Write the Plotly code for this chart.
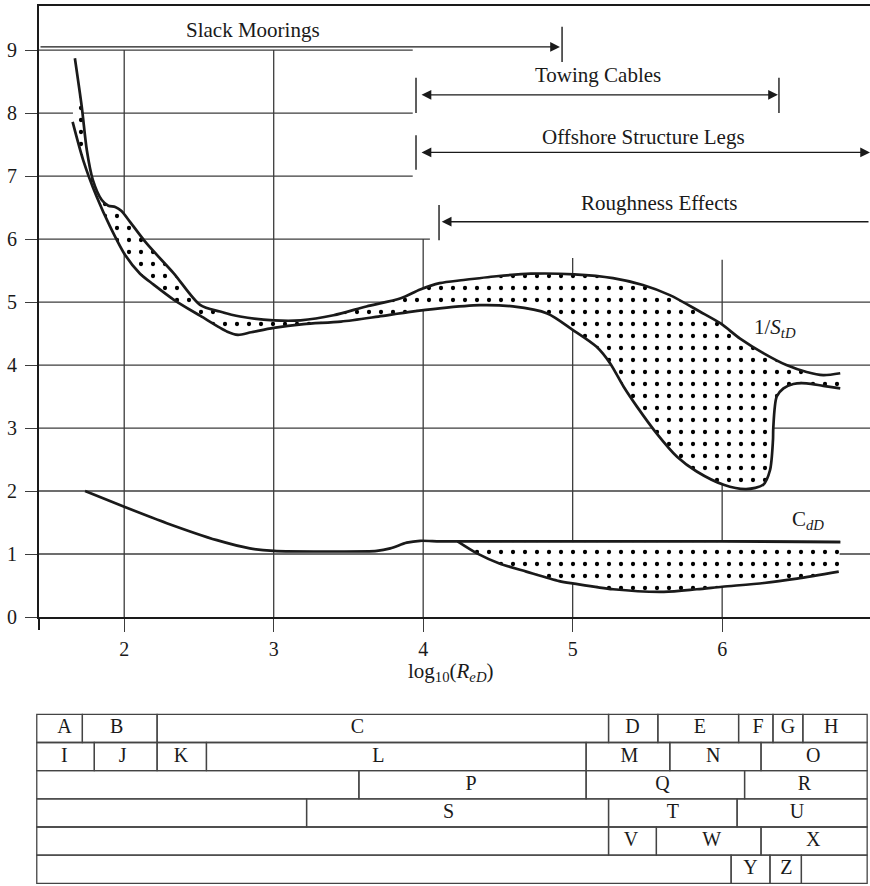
import plotly.graph_objects as go

# ---------------- data ----------------
# 1/S_tD band, upper boundary
st_upper_x = [1.67, 1.716, 1.75, 1.79, 1.85, 1.894, 1.94, 1.98, 2.04, 2.15, 2.33, 2.51, 2.64, 2.775,
              3.0, 3.18, 3.40, 3.62, 3.85, 3.98, 4.11, 4.27, 4.49, 4.72, 5.01, 5.27, 5.47, 5.65,
              5.85, 5.99, 6.12, 6.275, 6.43, 6.565, 6.676, 6.79]
st_upper_y = [8.87, 8.10, 7.41, 6.94, 6.62, 6.53, 6.51, 6.45, 6.27, 5.93, 5.46, 4.95, 4.85, 4.77,
              4.71, 4.71, 4.79, 4.93, 5.06, 5.20, 5.30, 5.35, 5.41, 5.45, 5.44, 5.38, 5.27, 5.11,
              4.85, 4.66, 4.42, 4.19, 4.00, 3.89, 3.84, 3.87]
# 1/S_tD band, lower boundary
st_lower_x = [1.655, 1.726, 1.816, 1.905, 2.005, 2.106, 2.195, 2.33, 2.51, 2.69, 2.76, 2.85, 3.0,
              3.2, 3.45, 3.7, 3.9, 4.11, 4.38, 4.60, 4.83, 5.0, 5.16, 5.25, 5.34, 5.43, 5.56,
              5.70, 5.83, 6.01, 6.16, 6.275, 6.32, 6.34, 6.342, 6.365, 6.41, 6.476, 6.565, 6.676, 6.79]
st_lower_y = [7.86, 7.25, 6.67, 6.20, 5.75, 5.45, 5.28, 5.04, 4.78, 4.53, 4.48, 4.52, 4.59,
              4.65, 4.69, 4.77, 4.84, 4.90, 4.95, 4.93, 4.82, 4.56, 4.29, 4.03, 3.66, 3.34, 2.92,
              2.54, 2.31, 2.10, 2.03, 2.10, 2.33, 2.81, 3.00, 3.50, 3.63, 3.70, 3.71, 3.67, 3.63]
# C_dD curve (upper boundary of its band on the right)
cd_x = [1.738, 2.0, 2.285, 2.62, 2.84, 3.0, 3.4, 3.69, 3.78, 3.89, 3.98, 4.11, 4.23, 5.0, 6.0, 6.79]
cd_y = [2.0, 1.75, 1.49, 1.22, 1.09, 1.05, 1.04, 1.05, 1.09, 1.18, 1.21, 1.20, 1.20, 1.20, 1.20, 1.19]
# C_dD band, lower boundary
cd_lower_x = [4.23, 4.36, 4.51, 4.69, 4.91, 5.01, 5.27, 5.61, 5.83, 6.0, 6.28, 6.50, 6.78]
cd_lower_y = [1.20, 1.01, 0.85, 0.72, 0.57, 0.53, 0.44, 0.40, 0.44, 0.48, 0.54, 0.61, 0.72]

x_ticks = [2, 3, 4, 5, 6]
y_ticks = [0, 1, 2, 3, 4, 5, 6, 7, 8, 9]

# application ranges (log10 Re)
range_names = ["Slack Moorings", "Towing Cables", "Offshore Structure Legs", "Roughness Effects"]
range_start = [1.43, 3.979, 3.979, 4.124]
range_end = [4.915, 6.373, 6.989, 6.989]

# table of ranges below the chart
cell_label = ["A", "B", "C", "D", "E", "F", "G", "H",
              "I", "J", "K", "L", "M", "N", "O",
              "", "P", "Q", "R",
              "", "S", "T", "U",
              "", "V", "W", "X",
              "", "Y", "Z", ""]
cell_row = [0] * 8 + [1] * 7 + [2] * 4 + [3] * 4 + [4] * 4 + [5] * 4
cell_start = [1.415, 1.72, 2.22, 5.24, 5.57, 6.11, 6.34, 6.54,
              1.415, 1.80, 2.22, 2.55, 5.09, 5.65, 6.26,
              1.415, 3.57, 5.09, 6.15,
              1.415, 3.22, 5.24, 6.10,
              1.415, 5.24, 5.56, 6.26,
              1.415, 6.06, 6.32, 6.53]
cell_end = [1.72, 2.22, 5.24, 5.57, 6.11, 6.34, 6.54, 6.97,
            1.80, 2.22, 2.55, 5.09, 5.65, 6.26, 6.97,
            3.57, 5.09, 6.15, 6.97,
            3.22, 5.24, 6.10, 6.97,
            5.24, 5.56, 6.26, 6.97,
            6.06, 6.32, 6.53, 6.97]
label_x = [1.60, 1.95, 3.56, 5.40, 5.85, 6.24, 6.44, 6.73,
           1.60, 1.99, 2.38, 3.70, 5.38, 5.94, 6.61,
           None, 4.32, 5.60, 6.55,
           None, 4.17, 5.67, 6.50,
           None, 5.39, 5.93, 6.61,
           None, 6.19, 6.43, None]

# ---------------- styling ----------------
W, H = 870, 886          # reference picture size (positions below are fractions of it)
H_LAYOUT = 897           # rendered height that maps onto the 886-px picture
FONT = "Liberation Serif"
INK = "#1a1a1a"
GRID = "#3c3c3c"
pattern = dict(shape=".", bgcolor="white", fgcolor="#000000", fgopacity=1, size=12, solidity=0.1)
CURVE = dict(color=INK, width=2.7, shape="spline", smoothing=0.8)

fig = go.Figure()

# 1/S_tD band
fig.add_trace(go.Scatter(x=st_upper_x, y=st_upper_y, mode="lines", line=CURVE, hoverinfo="skip"))
fig.add_trace(go.Scatter(x=st_lower_x, y=st_lower_y, mode="lines", fill="tonexty",
                         fillcolor="white", fillpattern=pattern, line=CURVE, hoverinfo="skip"))
# C_dD curve and band
fig.add_trace(go.Scatter(x=cd_x, y=cd_y, mode="lines", line=CURVE, hoverinfo="skip"))
seg_x = [x for x in cd_x if x >= cd_lower_x[0]]
seg_y = [y for x, y in zip(cd_x, cd_y) if x >= cd_lower_x[0]]
fig.add_trace(go.Scatter(x=seg_x, y=seg_y, mode="lines", line=CURVE, hoverinfo="skip"))
fig.add_trace(go.Scatter(x=cd_lower_x, y=cd_lower_y, mode="lines", fill="tonexty",
                         fillcolor="white", fillpattern=pattern, line=CURVE, hoverinfo="skip"))

# table labels
tx = [lx for lx, lab in zip(label_x, cell_label) if lab]
ty = [r + 0.5 for r, lab in zip(cell_row, cell_label) if lab]
tt = [lab for lab in cell_label if lab]
fig.add_trace(go.Scatter(x=tx, y=ty, text=tt, mode="text", xaxis="x2", yaxis="y2",
                         textfont=dict(family=FONT, size=20, color=INK), hoverinfo="skip"))

shapes = []
# grid lines (partial, as in the original)
x_lo, x_hi = 1.43, 6.989
for yv in [1, 2, 3, 4, 5]:
    shapes.append(dict(type="line", xref="x", yref="y", x0=x_lo, x1=x_hi, y0=yv, y1=yv,
                       line=dict(color=GRID, width=1.3), layer="below"))
shapes.append(dict(type="line", xref="x", yref="y", x0=x_lo, x1=4.045, y0=6, y1=6,
                   line=dict(color=GRID, width=1.3), layer="below"))
for yv in [7, 8, 9]:
    shapes.append(dict(type="line", xref="x", yref="y", x0=x_lo, x1=3.93, y0=yv, y1=yv,
                       line=dict(color=GRID, width=1.3), layer="below"))
for xv, ytop in [(2, 9), (3, 9), (4, 6), (5, 5.7), (6, 5.67)]:
    shapes.append(dict(type="line", xref="x", yref="y", x0=xv, x1=xv, y0=0, y1=ytop,
                       line=dict(color=GRID, width=1.3), layer="below"))
# left frame extension below the axis
shapes.append(dict(type="line", xref="paper", yref="paper", x0=39 / W, x1=39 / W,
                   y0=1 - 630 / H, y1=1 - 617 / H, line=dict(color=INK, width=2)))

# range bars (end stops)
stops = [(4.929, 8.81, 9.37), (3.952, 8.0, 8.56), (6.38, 8.0, 8.56),
         (3.952, 7.10, 7.65), (4.106, 5.98, 6.54)]
for xs, y0, y1 in stops:
    shapes.append(dict(type="line", xref="x", yref="y", x0=xs, x1=xs, y0=y0, y1=y1,
                       line=dict(color=INK, width=1.4)))

# table cells
for lab, r, a, b in zip(cell_label, cell_row, cell_start, cell_end):
    shapes.append(dict(type="rect", xref="x2", yref="y2", x0=a, x1=b, y0=r, y1=r + 1,
                       line=dict(color="#444444", width=1.3)))

annotations = []
range_y = [9.05, 8.29, 7.376, 6.275]
text_pos = [(2.86, 9.32), (5.169, 8.60), (5.474, 7.62), (5.584, 6.57)]
arrow_common = dict(xref="x", yref="y", axref="x", ayref="y", text="", showarrow=True,
                    arrowhead=2, arrowsize=1.5, arrowwidth=1.3, arrowcolor=INK)
annotations.append(dict(x=range_end[0], y=range_y[0], ax=range_start[0], ay=range_y[0],
                        arrowside="end", **arrow_common))
annotations.append(dict(x=range_end[1], y=range_y[1], ax=range_start[1], ay=range_y[1],
                        arrowside="end+start", **arrow_common))
annotations.append(dict(x=range_end[2], y=range_y[2], ax=range_start[2], ay=range_y[2],
                        arrowside="end+start", **arrow_common))
annotations.append(dict(x=range_start[3], y=range_y[3], ax=range_end[3], ay=range_y[3],
                        arrowside="end", **arrow_common))
for name, (tx_, ty_) in zip(range_names, text_pos):
    annotations.append(dict(x=tx_, y=ty_, xref="x", yref="y", text=name, showarrow=False,
                            xanchor="center", yanchor="middle",
                            font=dict(family=FONT, size=21, color=INK)))
# curve labels
annotations.append(dict(x=6.355, y=4.59, xref="x", yref="y", text="1/<i>S<sub>tD</sub></i>",
                        showarrow=False, xanchor="center", yanchor="middle",
                        font=dict(family=FONT, size=21, color=INK)))
annotations.append(dict(x=6.575, y=1.54, xref="x", yref="y", text="C<i><sub>dD</sub></i>",
                        showarrow=False, xanchor="center", yanchor="middle",
                        font=dict(family=FONT, size=21, color=INK)))
# axis title
annotations.append(dict(x=4.186, y=1 - 672 / H, xref="x", yref="paper",
                        text="log<sub>10</sub>(<i>R<sub>eD</sub></i>)", showarrow=False,
                        xanchor="center", yanchor="middle",
                        font=dict(family=FONT, size=21, color=INK)))

fig.update_layout(
    width=W, height=H_LAYOUT,
    margin=dict(l=0, r=0, t=0, b=0),
    paper_bgcolor="white", plot_bgcolor="white",
    showlegend=False,
    xaxis=dict(domain=[39 / W, 1], range=[x_lo, x_hi], tickvals=x_ticks,
               ticks="outside", ticklen=13, tickwidth=1.3, tickcolor=GRID,
               showgrid=False, zeroline=False, showline=True, linecolor=INK, linewidth=2,
               mirror=True, tickfont=dict(family=FONT, size=20, color=INK)),
    yaxis=dict(domain=[1 - 617 / H, 1 - 6 / H], range=[0, 9.7], tickvals=y_ticks,
               ticks="outside", ticklen=12, tickwidth=1.3, tickcolor=GRID,
               showgrid=False, zeroline=False, showline=True, linecolor=INK, linewidth=2,
               tickfont=dict(family=FONT, size=20, color=INK), ticklabelstandoff=4),
    xaxis2=dict(domain=[0, 1], range=[1.169, 6.989], visible=False),
    yaxis2=dict(domain=[0, 1 - 700 / H], range=[6.095, -0.508], visible=False),
    shapes=shapes,
    annotations=annotations,
)

post = ("document.documentElement.style.margin='0';document.body.style.margin='0';"
        "document.documentElement.style.overflow='hidden';document.body.style.overflow='hidden';"
        "var d=document.getElementById('{plot_id}');"
        "d.style.position='absolute';d.style.left='0px';d.style.top='0px';")
fig.write_html("out.html", config={"displayModeBar": False}, post_script=post)
